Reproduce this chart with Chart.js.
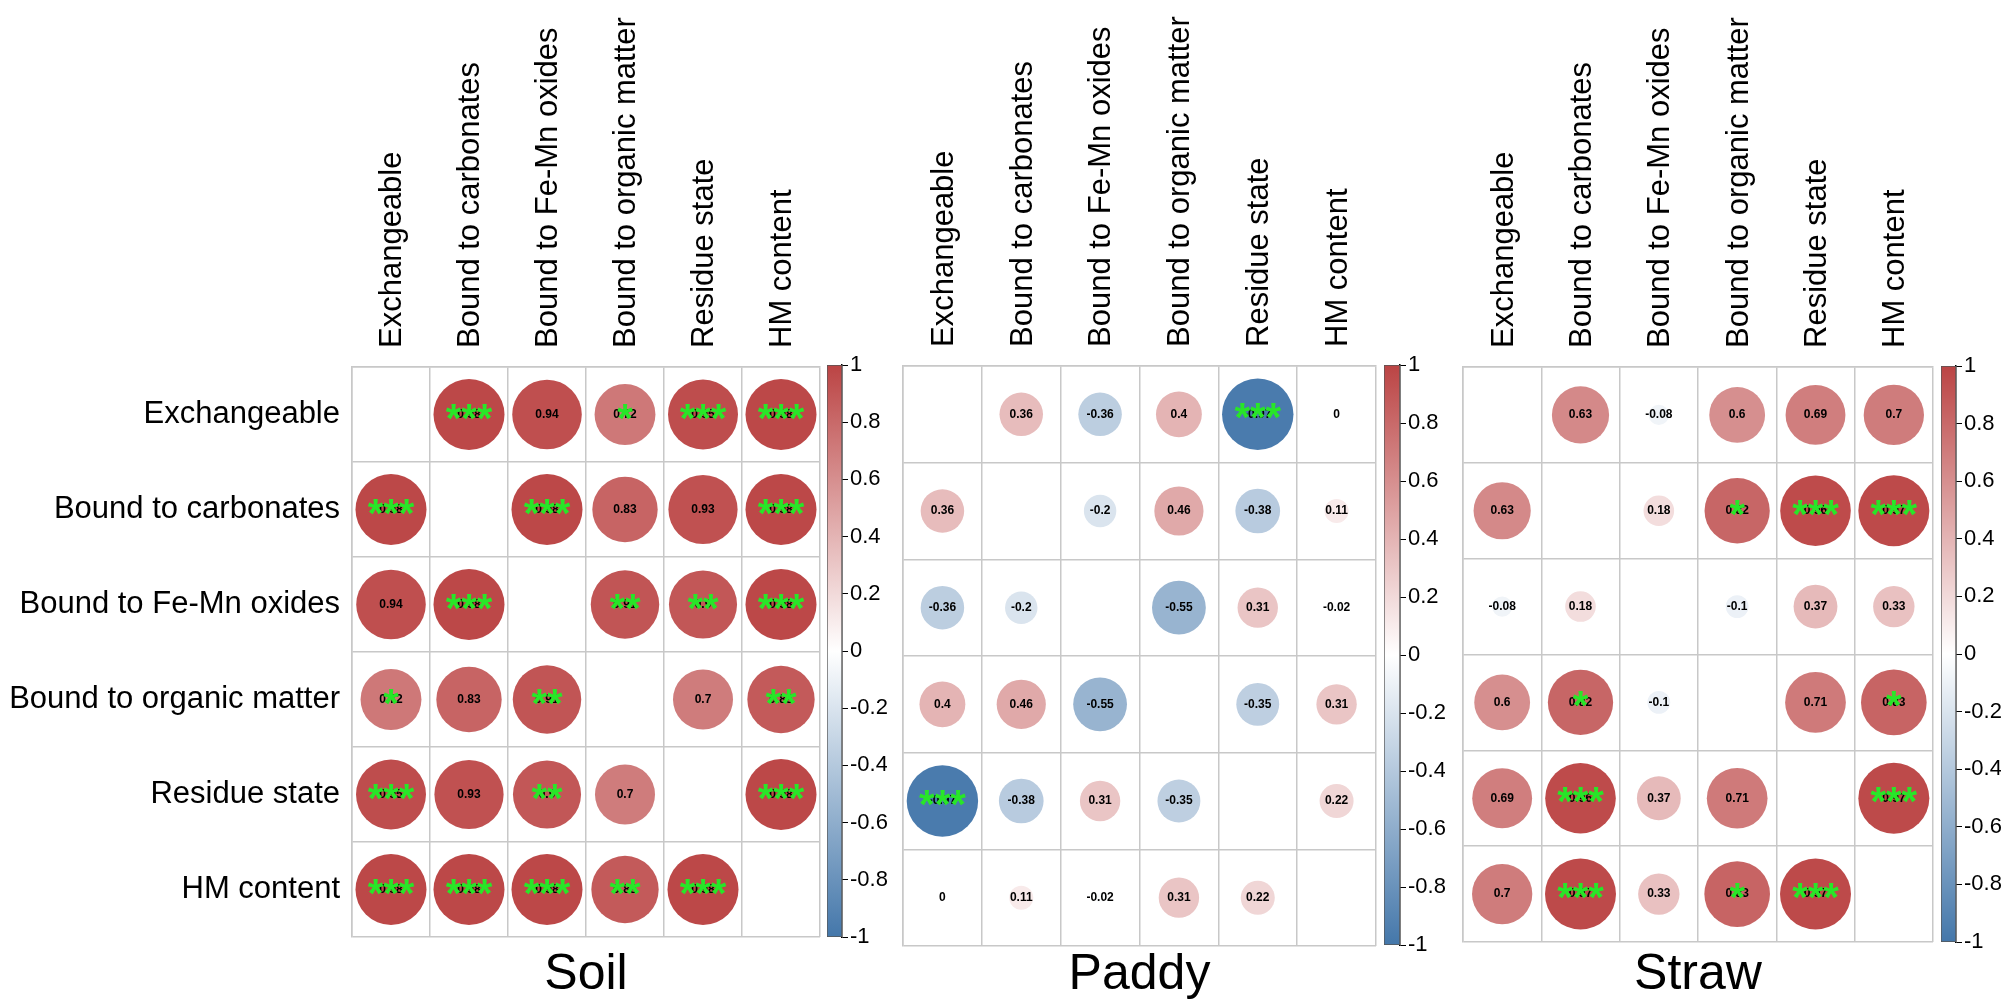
<!DOCTYPE html>
<html lang="en">
<head>
<meta charset="UTF-8">
<script src="https://cdn.jsdelivr.net/npm/chart.js"></script>
<title>Correlation matrices</title>
<style>
  html, body { margin: 0; padding: 0; background: #fff; overflow: hidden; }
  .box { position: absolute; top: 0; height: 1003px; }
</style>
</head>
<body>
<div class="box" id="soilBox"><canvas id="soil"></canvas></div>
<div class="box" style="left:827px;width:60px"><canvas id="soilBar"></canvas></div>
<div class="box" id="paddyBox"><canvas id="paddy"></canvas></div>
<div class="box" style="left:1384px;width:61px"><canvas id="paddyBar"></canvas></div>
<div class="box" id="strawBox"><canvas id="straw"></canvas></div>
<div class="box" style="left:1941px;width:60px"><canvas id="strawBar"></canvas></div>

<script>
const categories = ['Exchangeable', 'Bound to carbonates', 'Bound to Fe-Mn oxides',
                    'Bound to organic matter', 'Residue state', 'HM content'];

// correlation coefficients (diagonal left empty)
const soilR = [
  [null, 0.98, 0.94, 0.72, 0.95, 0.98],
  [0.98, null, 0.98, 0.83, 0.93, 0.98],
  [0.94, 0.98, null, 0.91, 0.9, 0.98],
  [0.72, 0.83, 0.91, null, 0.7, 0.88],
  [0.95, 0.93, 0.9, 0.7, null, 0.98],
  [0.98, 0.98, 0.98, 0.88, 0.98, null]
];
const soilStars = [
  [0, 3, 0, 1, 3, 3],
  [3, 0, 3, 0, 0, 3],
  [0, 3, 0, 2, 2, 3],
  [1, 0, 2, 0, 0, 2],
  [3, 0, 2, 0, 0, 3],
  [3, 3, 3, 2, 3, 0]
];
const paddyR = [
  [null, 0.36, -0.36, 0.4, -0.97, 0],
  [0.36, null, -0.2, 0.46, -0.38, 0.11],
  [-0.36, -0.2, null, -0.55, 0.31, -0.02],
  [0.4, 0.46, -0.55, null, -0.35, 0.31],
  [-0.97, -0.38, 0.31, -0.35, null, 0.22],
  [0, 0.11, -0.02, 0.31, 0.22, null]
];
const paddyStars = [
  [0, 0, 0, 0, 3, 0],
  [0, 0, 0, 0, 0, 0],
  [0, 0, 0, 0, 0, 0],
  [0, 0, 0, 0, 0, 0],
  [3, 0, 0, 0, 0, 0],
  [0, 0, 0, 0, 0, 0]
];
const strawR = [
  [null, 0.63, -0.08, 0.6, 0.69, 0.7],
  [0.63, null, 0.18, 0.82, 0.96, 0.97],
  [-0.08, 0.18, null, -0.1, 0.37, 0.33],
  [0.6, 0.82, -0.1, null, 0.71, 0.83],
  [0.69, 0.96, 0.37, 0.71, null, 0.97],
  [0.7, 0.97, 0.33, 0.83, 0.97, null]
];
const strawStars = [
  [0, 0, 0, 0, 0, 0],
  [0, 0, 0, 1, 3, 3],
  [0, 0, 0, 0, 0, 0],
  [0, 1, 0, 0, 0, 1],
  [0, 3, 0, 0, 0, 3],
  [0, 3, 0, 1, 3, 0]
];
const colorbarTicks = [-1, -0.8, -0.6, -0.4, -0.2, 0, 0.2, 0.4, 0.6, 0.8, 1];

Chart.defaults.font.family = '"Liberation Sans", Arial, sans-serif';
Chart.defaults.color = '#000';

const blue = [68, 119, 170], white = [255, 255, 255], red = [187, 68, 68];
function corrColor(v) {
  const end = v < 0 ? blue : red, t = Math.abs(v);
  const c = white.map((w, k) => Math.round(w + (end[k] - w) * t));
  return 'rgb(' + c.join(',') + ')';
}

const cellText = {
  id: 'cellText',
  afterDatasetsDraw(chart) {
    const ctx = chart.ctx;
    const pts = chart.data.datasets[0].data;
    ctx.save();
    ctx.textAlign = 'center';
    chart.getDatasetMeta(0).data.forEach((el, i) => {
      const d = pts[i];
      ctx.fillStyle = '#000';
      ctx.font = 'bold 12px "Liberation Sans", Arial';
      ctx.textBaseline = 'middle';
      ctx.fillText(String(d.v), el.x, el.y);
      if (d.s) {
        ctx.fillStyle = 'rgb(40,230,40)';
        ctx.font = 'bold 40px "Liberation Sans", Arial';
        ctx.textBaseline = 'alphabetic';
        ctx.fillText('*'.repeat(d.s), el.x, el.y + 17);
      }
    });
    ctx.restore();
  }
};

const PAD = 40; // room for the bubble overflow padding chart.js keeps round the plot

function matrixChart(id, values, stars, title, opt) {
  const box = document.getElementById(id + 'Box');
  box.style.left = opt.x + 'px';
  box.style.width = (opt.left + opt.plotWidth + PAD) + 'px';
  const cell = opt.plotWidth / categories.length;
  const points = [];
  values.forEach((row, i) => row.forEach((v, j) => {
    if (v !== null) points.push({x: categories[j], y: categories[i], v: v, s: stars[i][j]});
  }));
  return new Chart(document.getElementById(id), {
    type: 'bubble',
    data: {
      datasets: [{
        data: points,
        backgroundColor: c => (c.raw ? corrColor(c.raw.v) : '#fff'),
        borderWidth: 0,
        // circle area proportional to |r|
        radius: c => (c.raw ? 0.46 * cell * Math.sqrt(Math.abs(c.raw.v)) : 0),
        clip: false
      }]
    },
    options: {
      responsive: true,
      maintainAspectRatio: false,
      animation: false,
      events: [],
      layout: {padding: {left: 0, right: PAD, top: 0, bottom: 0}},
      scales: {
        x: {
          type: 'category', labels: categories, position: 'top',
          offset: true,
          grid: {offset: true, color: '#c8c8c8', lineWidth: 1.5, drawTicks: false},
          border: {color: '#c8c8c8', width: 1.5},
          ticks: {minRotation: 90, maxRotation: 90, autoSkip: false, padding: 19,
                  labelOffset: 39, font: {size: 31}},
          afterFit: s => { s.height = opt.top; }
        },
        y: {
          type: 'category', labels: categories,
          offset: true,
          grid: {offset: true, color: '#c8c8c8', lineWidth: 1.5, drawTicks: false},
          border: {color: '#c8c8c8', width: 1.5},
          ticks: {display: opt.rowLabels, autoSkip: false, padding: 12, font: {size: 31}},
          afterFit: s => { s.width = opt.left; }
        }
      },
      plugins: {
        legend: {display: false},
        tooltip: {enabled: false},
        title: {
          display: true, text: title, position: 'bottom', fullSize: false,
          color: '#000', font: {size: 50, weight: 'normal', lineHeight: 1},
          padding: {top: opt.titleTop, bottom: 3}
        }
      }
    },
    plugins: [cellText]
  });
}

function colorBar(id, top, bottom) {
  return new Chart(document.getElementById(id), {
    type: 'bar',
    data: {
      labels: [''],
      datasets: [{
        data: [[colorbarTicks[0], colorbarTicks[colorbarTicks.length - 1]]],
        backgroundColor: c => {
          const a = c.chart.chartArea;
          if (!a) return null;
          const g = c.chart.ctx.createLinearGradient(0, a.bottom, 0, a.top);
          g.addColorStop(0, corrColor(-1));
          g.addColorStop(0.5, corrColor(0));
          g.addColorStop(1, corrColor(1));
          return g;
        },
        borderColor: '#555',
        borderWidth: 1,
        borderSkipped: false,
        barPercentage: 1,
        categoryPercentage: 1
      }]
    },
    options: {
      responsive: true,
      maintainAspectRatio: false,
      animation: false,
      events: [],
      layout: {padding: {left: 0, right: 0, top: top, bottom: 1003 - bottom}},
      scales: {
        x: {display: false},
        y: {
          position: 'right', min: -1, max: 1,
          afterBuildTicks: s => { s.ticks = colorbarTicks.map(v => ({value: v})); },
          ticks: {font: {size: 22}, padding: 2,
                  callback: v => String(Math.round(v * 10) / 10)},
          grid: {drawOnChartArea: false, color: '#000', tickLength: 6, lineWidth: 1},
          border: {display: true, color: '#000', width: 1.5},
          afterFit: s => { s.width = 45; }
        }
      },
      plugins: {legend: {display: false}, tooltip: {enabled: false}}
    }
  });
}

matrixChart('soil', soilR, soilStars, 'Soil',
  {x: 0, left: 352, plotWidth: 468, top: 367, rowLabels: true, titleTop: 13});
matrixChart('paddy', paddyR, paddyStars, 'Paddy',
  {x: 863, left: 40, plotWidth: 473, top: 366, rowLabels: false, titleTop: 4});
matrixChart('straw', strawR, strawStars, 'Straw',
  {x: 1423, left: 40, plotWidth: 470, top: 367, rowLabels: false, titleTop: 8});
colorBar('soilBar', 365, 937);
colorBar('paddyBar', 365, 945);
colorBar('strawBar', 366, 942);
</script>
</body>
</html>
